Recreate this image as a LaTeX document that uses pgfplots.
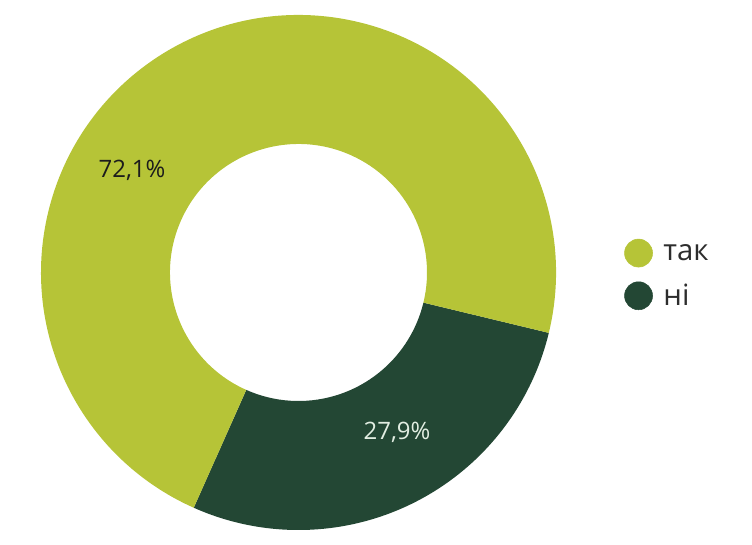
\documentclass[border=0pt]{standalone}
\usepackage{pgfplots}
\pgfplotsset{compat=1.18}
\usepackage{fontspec}
\setmainfont{Open Sans}
\definecolor{lightg}{RGB}{182,196,55}
\definecolor{darkg}{RGB}{35,71,52}
\definecolor{labdark}{RGB}{28,28,28}
\definecolor{lablight}{RGB}{226,238,226}
\definecolor{legtext}{RGB}{45,45,45}
% values (percent)
\def\valA{72.1}% так
\def\valB{27.9}% ні
\begin{document}
\begin{tikzpicture}
\begin{axis}[
  scale only axis, width=564pt, height=408pt,
  xmin=0, xmax=752, ymin=0, ymax=544,
  hide axis, clip=false,
  legend style={at={(axis cs:620,269.5)}, anchor=west, draw=none, fill=none,
    font=\fontsize{22}{26}\selectfont\color{legtext}, row sep=10.5pt},
  legend cell align=left,
]
\path (axis cs:0,0) rectangle (axis cs:752,544);
\pgfmathsetmacro{\cx}{298.5}
\pgfmathsetmacro{\cy}{271.5}
\pgfmathsetmacro{\Ro}{257.5}
\pgfmathsetmacro{\Ri}{128.5}
\pgfmathsetmacro{\aStart}{-114.0}
\pgfmathsetmacro{\aMid}{\aStart+\valB*3.6}
\pgfmathsetmacro{\aEnd}{\aStart+360}
\pgfmathsetmacro{\RoPt}{\Ro*0.75}
\pgfmathsetmacro{\RiPt}{\Ri*0.75}
% dark slice (ні)
\fill[darkg, overlay] (axis cs:{\cx+\Ro*cos(\aStart)},{\cy+\Ro*sin(\aStart)})
  arc[start angle=\aStart, end angle=\aMid, radius=\RoPt pt]
  -- (axis cs:{\cx+\Ri*cos(\aMid)},{\cy+\Ri*sin(\aMid)})
  arc[start angle=\aMid, end angle=\aStart, radius=\RiPt pt] -- cycle;
% light slice (так)
\fill[lightg, overlay] (axis cs:{\cx+\Ro*cos(\aMid)},{\cy+\Ro*sin(\aMid)})
  arc[start angle=\aMid, end angle=\aEnd, radius=\RoPt pt]
  -- (axis cs:{\cx+\Ri*cos(\aEnd)},{\cy+\Ri*sin(\aEnd)})
  arc[start angle=\aEnd, end angle=\aMid, radius=\RiPt pt] -- cycle;
\node[font=\fontsize{18}{20}\selectfont, text=labdark] at (axis cs:132,374) {72,1\%};
\node[font=\fontsize{18}{20}\selectfont, text=lablight] at (axis cs:397,112) {27,9\%};
\addlegendimage{legend image code/.code={\fill[lightg] (0.3cm,0) circle[radius=10.5pt];}}
\addlegendentry{\hspace{6pt}так}
\addlegendimage{legend image code/.code={\fill[darkg] (0.3cm,0) circle[radius=10.5pt];}}
\addlegendentry{\hspace{6pt}ні}
\end{axis}
\end{tikzpicture}
\end{document}
